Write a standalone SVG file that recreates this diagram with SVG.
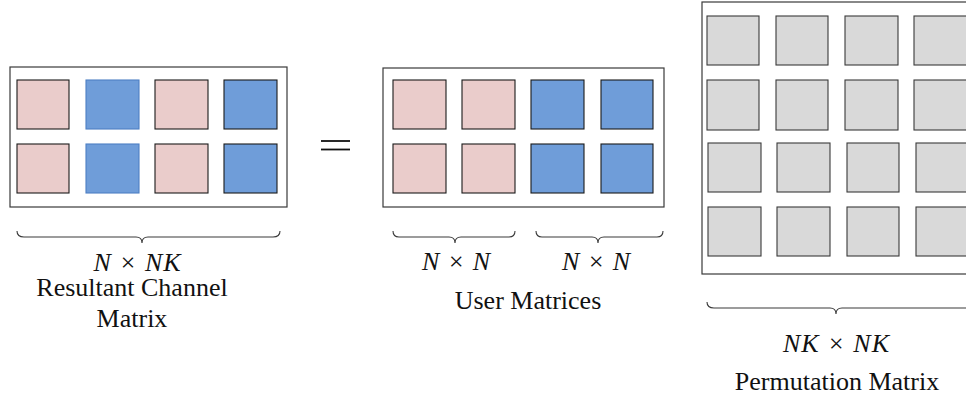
<svg xmlns="http://www.w3.org/2000/svg" width="966" height="400" viewBox="0 0 966 400">
  <style>
    .frame { fill: #ffffff; stroke: #3a3a3a; stroke-width: 1.2; }
    .pink { fill: #eacccb; stroke: #1a1a1a; stroke-width: 1.1; }
    .blue { fill: #6f9dd9; stroke: #1a1a1a; stroke-width: 1.1; }
    .blue-soft { fill: #6f9dd9; stroke: #4d7fc4; stroke-width: 1.1; }
    .gray { fill: #d9d9d9; stroke: #3a3a3a; stroke-width: 1.1; }
    .brace { fill: none; stroke: #3a3a3a; stroke-width: 1.1; }
    .math { font-family: "Liberation Serif", "Times New Roman", serif; font-style: italic; font-size: 26px; fill: #111; }
    .label { font-family: "Liberation Serif", "Times New Roman", serif; font-size: 26px; fill: #111; }
  </style>

  <!-- Resultant channel matrix: 2 x 4 blocks -->
  <g id="resultant-channel-matrix">
    <rect class="frame" x="10" y="67" width="277" height="140"/>
    <rect class="pink" x="17" y="80" width="52" height="49"/>
    <rect class="blue-soft" x="86" y="80" width="53" height="49"/>
    <rect class="pink" x="155" y="80" width="53" height="49"/>
    <rect class="blue" x="224" y="80" width="53" height="49"/>
    <rect class="pink" x="17" y="144" width="52" height="49"/>
    <rect class="blue-soft" x="86" y="144" width="53" height="49"/>
    <rect class="pink" x="155" y="144" width="53" height="49"/>
    <rect class="blue" x="224" y="144" width="53" height="49"/>
    <path class="brace" d="M17,231 Q17,237 24,237 L136,237 Q142,237 142,243 Q142,237 148,237 L273,237 Q280,237 280,231"/>
    <text class="math" x="137" y="271" text-anchor="middle" textLength="87" lengthAdjust="spacing">N × NK</text>
    <text class="label" x="132" y="296" text-anchor="middle">Resultant Channel</text>
    <text class="label" x="132" y="327" text-anchor="middle">Matrix</text>
  </g>

  <!-- Equality sign -->
  <g id="equals">
    <line x1="321" y1="141" x2="350" y2="141" stroke="#111" stroke-width="1.8"/>
    <line x1="321" y1="149.5" x2="350" y2="149.5" stroke="#111" stroke-width="1.8"/>
  </g>

  <!-- User matrices: two N x N blocks side by side -->
  <g id="user-matrices">
    <rect class="frame" x="383" y="68" width="281" height="139"/>
    <rect class="pink" x="393" y="80" width="53" height="49"/>
    <rect class="pink" x="462" y="80" width="53" height="49"/>
    <rect class="blue" x="531" y="80" width="53" height="49"/>
    <rect class="blue" x="601" y="80" width="52" height="49"/>
    <rect class="pink" x="393" y="144" width="53" height="49"/>
    <rect class="pink" x="462" y="144" width="53" height="49"/>
    <rect class="blue" x="531" y="144" width="53" height="49"/>
    <rect class="blue" x="601" y="144" width="52" height="49"/>
    <path class="brace" d="M393,231 Q393,237 399,237 L449,237 Q455,237 455,243 Q455,237 461,237 L509,237 Q515,237 515,231"/>
    <path class="brace" d="M536,231 Q536,237 542,237 L592,237 Q598,237 598,243 Q598,237 604,237 L657,237 Q663,237 663,231"/>
    <text class="math" x="456" y="270" text-anchor="middle" textLength="68" lengthAdjust="spacing">N × N</text>
    <text class="math" x="596" y="270" text-anchor="middle" textLength="68" lengthAdjust="spacing">N × N</text>
    <text class="label" x="528" y="309" text-anchor="middle">User Matrices</text>
  </g>

  <!-- Permutation matrix: 4 x 4 grey blocks, clipped at the right edge -->
  <g id="permutation-matrix">
    <rect class="frame" x="702" y="2" width="280" height="272"/>
    <rect class="gray" x="707" y="16" width="52" height="49"/>
    <rect class="gray" x="776" y="16" width="52" height="49"/>
    <rect class="gray" x="845" y="16" width="53" height="49"/>
    <rect class="gray" x="914" y="16" width="53" height="49"/>
    <rect class="gray" x="707" y="80" width="52" height="50"/>
    <rect class="gray" x="776" y="80" width="52" height="50"/>
    <rect class="gray" x="845" y="80" width="53" height="50"/>
    <rect class="gray" x="914" y="80" width="53" height="50"/>
    <rect class="gray" x="708" y="143" width="53" height="49"/>
    <rect class="gray" x="777" y="143" width="53" height="49"/>
    <rect class="gray" x="847" y="143" width="52" height="49"/>
    <rect class="gray" x="916" y="143" width="53" height="49"/>
    <rect class="gray" x="708" y="207" width="53" height="49"/>
    <rect class="gray" x="777" y="207" width="53" height="49"/>
    <rect class="gray" x="847" y="207" width="52" height="49"/>
    <rect class="gray" x="916" y="207" width="53" height="49"/>
    <path class="brace" d="M707,302 Q707,308 714,308 L830,308 Q836,308 836,314 Q836,308 842,308 L970,308"/>
    <text class="math" x="836" y="352" text-anchor="middle" textLength="106" lengthAdjust="spacing">NK × NK</text>
    <text class="label" x="837" y="390" text-anchor="middle">Permutation Matrix</text>
  </g>
</svg>
